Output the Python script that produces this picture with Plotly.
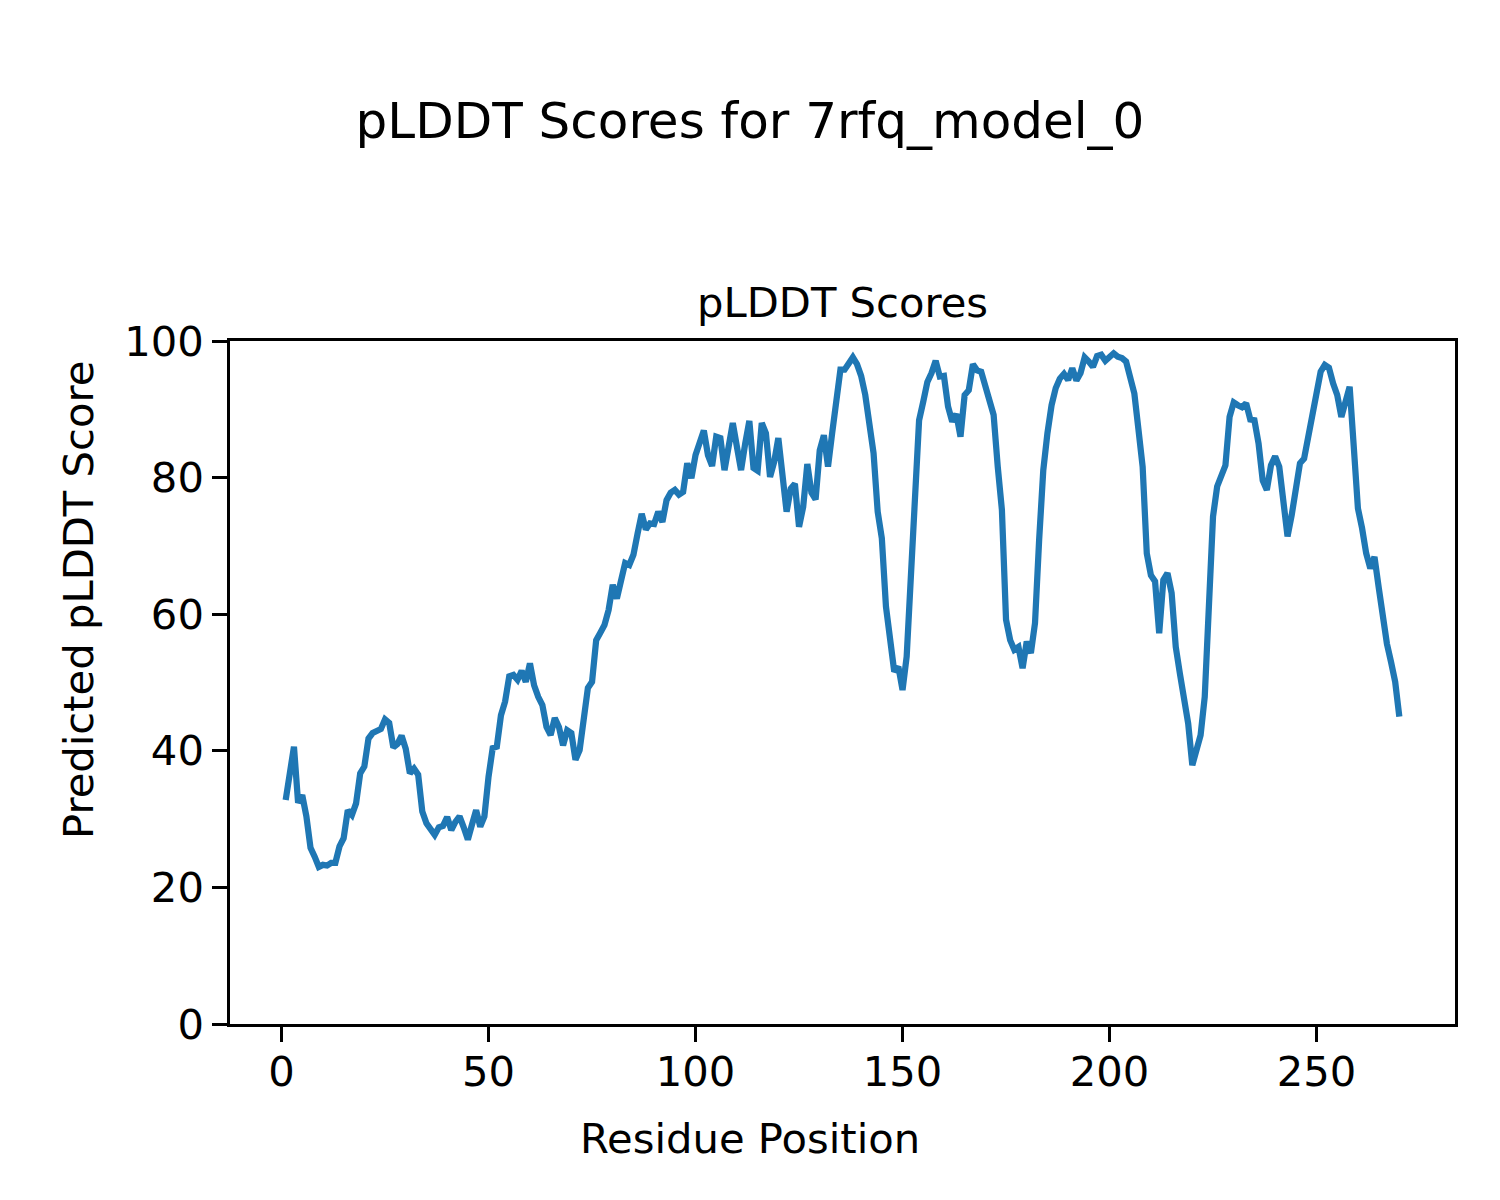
import plotly.graph_objects as go

residues = list(range(1, 271))
plddt = [
    32.8, 36.8, 40.6, 32.4, 33.5, 30.4, 25.8, 24.5, 23.0, 23.3,
    23.2, 23.6, 23.6, 26.0, 27.2, 31.3, 30.6, 32.3, 36.7, 37.7,
    41.8, 42.6, 43.0, 43.2, 44.6, 44.1, 40.5, 41.0, 42.2, 40.3,
    36.7, 37.4, 36.5, 31.1, 29.4, 28.4, 27.7, 28.8, 29.0, 30.3,
    28.4, 29.6, 30.4, 28.8, 27.0, 29.2, 31.3, 28.9, 30.4, 36.2,
    40.4, 40.6, 45.2, 47.2, 50.9, 51.1, 50.4, 51.7, 50.1, 52.8,
    49.6, 47.9, 46.7, 43.5, 42.3, 44.8, 43.5, 40.8, 43.0, 42.6,
    38.7, 40.1, 44.8, 49.2, 50.1, 56.2, 57.3, 58.4, 60.6, 64.3,
    62.3, 65.0, 67.5, 67.2, 68.7, 71.8, 74.7, 72.4, 73.3, 73.2,
    75.0, 73.5, 76.7, 77.8, 78.2, 77.5, 77.9, 82.1, 79.9, 83.3,
    84.8, 86.9, 83.3, 81.7, 86.0, 85.8, 81.1, 84.0, 88.0, 84.5,
    81.1, 85.0, 88.3, 81.4, 81.0, 88.0, 86.5, 80.1, 82.3, 85.8,
    79.6, 75.0, 78.4, 79.1, 72.8, 75.7, 82.0, 77.8, 76.8, 84.0,
    86.2, 81.6, 86.5, 91.6, 95.8, 95.8, 96.6, 97.6, 96.6, 94.9,
    92.1, 88.4, 83.6, 75.0, 71.1, 61.1, 56.2, 51.6, 52.3, 48.9,
    53.8, 66.0, 79.6, 88.4, 91.1, 94.0, 95.3, 97.1, 94.8, 94.9,
    90.4, 88.2, 89.3, 86.0, 92.1, 92.8, 96.6, 95.7, 95.5, 93.6,
    91.8, 89.2, 81.6, 75.3, 59.2, 56.2, 54.8, 55.2, 52.1, 56.0,
    54.3, 58.7, 70.9, 81.1, 86.5, 90.6, 93.1, 94.5, 95.2, 94.3,
    96.0, 94.2, 95.3, 97.6, 97.0, 96.2, 97.8, 98.0, 97.1, 97.6,
    98.2, 97.7, 97.5, 97.0, 94.8, 92.3, 87.0, 81.6, 68.9, 65.7,
    64.8, 57.2, 65.0, 66.0, 63.1, 55.2, 51.3, 47.9, 44.0, 37.9,
    40.1, 42.3, 47.9, 61.1, 74.3, 78.7, 80.6, 81.8, 88.9, 91.0,
    90.6, 90.3, 90.9, 88.5, 88.4, 85.0, 79.6, 78.2, 81.8, 83.1,
    81.6, 75.7, 71.4, 74.5, 77.7, 82.1, 82.8, 86.0, 89.6, 93.0,
    95.5, 96.5, 96.1, 93.8, 92.1, 88.9, 90.9, 93.3, 84.5, 75.5,
    72.6, 68.9, 66.7, 68.4, 64.0, 58.9, 55.7, 53.0, 50.1, 45.0,
]

x_ticks = [0, 50, 100, 150, 200, 250]
y_ticks = [0, 20, 40, 60, 80, 100]

suptitle = "pLDDT Scores for 7rfq_model_0"
ax_title = "pLDDT Scores"
x_label = "Residue Position"
y_label = "Predicted pLDDT Score"

FONT = "DejaVu Sans"
OFF = 8  # page body margin offset

fig = go.Figure()
fig.add_trace(go.Scatter(
    x=residues, y=plddt, mode="lines",
    line=dict(color="#1f77b4", width=6.25),
    showlegend=False, hoverinfo="x+y",
))

span = residues[-1] - residues[0]
xr = [residues[0] - 0.05 * span, residues[-1] + 0.05 * span]

axis_common = dict(
    showline=True, linecolor="black", linewidth=3.3, mirror=True,
    ticks="outside", ticklen=14.6, tickwidth=3.3, tickcolor="black",
    showgrid=False, zeroline=False,
    tickfont=dict(family=FONT, size=41.7, color="black"),
)

fig.update_layout(
    width=1500, height=1200,
    paper_bgcolor="white", plot_bgcolor="white",
    margin=dict(l=230 - OFF, r=45 + OFF, t=341 - OFF, b=176 + OFF, autoexpand=False),
    font=dict(family=FONT, color="black"),
    title=dict(text=suptitle, x=(750 - 230) / 1225, xref="paper", xanchor="center",
               y=1 - (120 - OFF) / 1200, yref="container", yanchor="middle",
               font=dict(family=FONT, size=50, color="black")),
    xaxis=dict(range=xr, tickvals=x_ticks, ticktext=[str(v) for v in x_ticks],
               ticklabelstandoff=-6, **axis_common),
    yaxis=dict(range=[0, 100], tickvals=y_ticks, ticktext=[str(v) for v in y_ticks],
               ticklabelstandoff=0, **axis_common),
    annotations=[
        dict(text=ax_title, xref="paper", yref="paper", x=0.5, y=1.057,
             xanchor="center", yanchor="middle", showarrow=False,
             font=dict(family=FONT, size=41.7, color="black")),
        dict(text=x_label, xref="paper", yref="paper", x=(750 - 230) / 1225,
             y=(1024 - 1138) / 683, xanchor="center", yanchor="middle",
             showarrow=False, font=dict(family=FONT, size=41.7, color="black")),
        dict(text=y_label, xref="paper", yref="paper", x=(78 - 230) / 1225,
             y=(1024 - 600) / 683, xanchor="center", yanchor="middle",
             textangle=-90, showarrow=False,
             font=dict(family=FONT, size=41.7, color="black")),
    ],
)

fig.write_html("out.html")
